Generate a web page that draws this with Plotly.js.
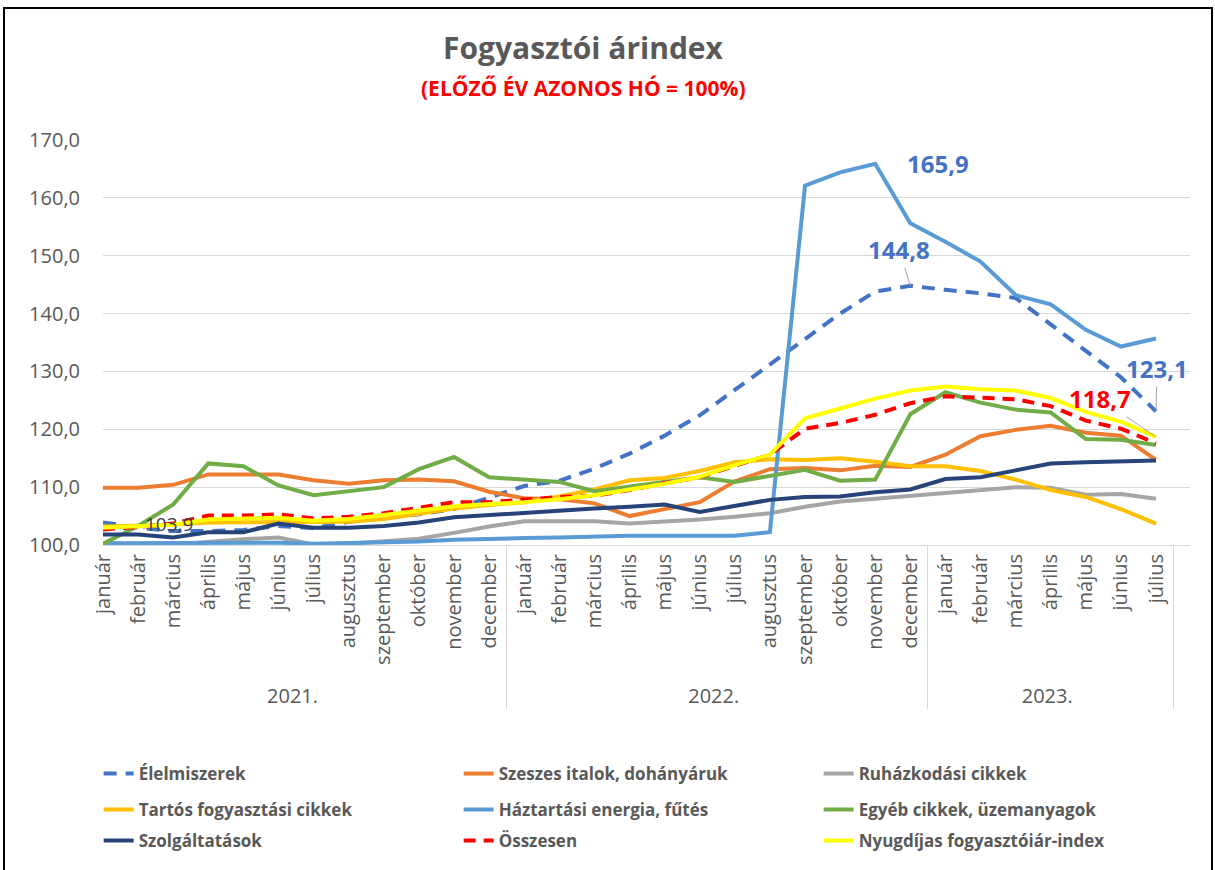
<!DOCTYPE html>
<html>
<head>
<meta charset="utf-8">
<script src="https://cdn.plot.ly/plotly-3.0.1.min.js"></script>
<style>
  html, body { margin: 0; padding: 0; background: #ffffff; }
  #wrap { position: relative; width: 1215px; height: 870px; }
  #chart { width: 1215px; height: 870px; }
  #frame {
    position: absolute; left: 3px; top: 7px; width: 1206px; height: 870px;
    border: 2px solid #000; border-bottom: none; pointer-events: none;
  }
</style>
</head>
<body>
<div id="wrap">
  <div id="chart"></div>
  <div id="frame"></div>
</div>
<script>
  // categories
  const years = ["2021.", "2022.", "2023."];
  const monthNames = ["január", "február", "március", "április", "május", "június",
    "július", "augusztus", "szeptember", "október", "november", "december"];
  const monthsPerYear = [12, 12, 7];

  // series values (previous year same month = 100)
  const elelmiszerek = [103.9, 103.0, 102.4, 102.4, 102.6, 103.3, 102.9, 104.0, 104.7, 105.3, 106.2, 108.2,
    110.2, 111.1, 113.2, 115.8, 118.9, 122.4, 126.8, 131.0, 135.5, 140.0, 143.8, 144.8,
    144.1, 143.5, 142.7, 138.1, 133.6, 129.0, 123.1];
  const szeszes = [109.9, 109.9, 110.4, 112.2, 112.2, 112.2, 111.2, 110.6, 111.2, 111.3, 111.0, 109.2,
    108.1, 107.9, 107.2, 105.0, 106.2, 107.4, 111.0, 113.1, 113.3, 112.9, 113.7, 113.5,
    115.6, 118.8, 119.9, 120.6, 119.4, 118.9, 114.7];
  const ruhazkodas = [100.3, 100.1, 100.1, 100.6, 101.0, 101.3, 100.1, 100.2, 100.6, 101.1, 102.1, 103.2,
    104.1, 104.1, 104.1, 103.7, 104.0, 104.4, 104.9, 105.5, 106.6, 107.5, 108.0, 108.5,
    108.9, 109.4, 110.0, 109.9, 108.7, 108.8, 108.0];
  const tartos = [103.2, 103.3, 103.5, 103.9, 103.9, 104.0, 103.9, 104.0, 104.5, 105.4, 106.3, 106.9,
    107.4, 108.4, 109.6, 111.2, 111.6, 112.8, 114.3, 114.8, 114.7, 115.0, 114.4, 113.6,
    113.6, 112.8, 111.3, 109.5, 108.3, 106.2, 103.7];
  const energia = [100.3, 100.3, 100.3, 100.3, 100.4, 100.4, 100.2, 100.3, 100.4, 100.6, 100.9, 101.1,
    101.2, 101.3, 101.5, 101.6, 101.6, 101.6, 101.6, 102.2, 162.1, 164.4, 165.9, 155.6,
    152.4, 149.0, 143.2, 141.6, 137.2, 134.3, 135.7];
  const egyeb = [100.2, 103.3, 107.0, 114.1, 113.6, 110.3, 108.6, 109.3, 110.0, 113.1, 115.2, 111.7,
    111.3, 110.9, 109.3, 110.1, 110.9, 111.7, 110.9, 111.9, 113.0, 111.1, 111.3, 122.6,
    126.4, 124.6, 123.4, 122.9, 118.3, 118.2, 117.3];
  const szolgaltatas = [101.8, 101.8, 101.3, 102.2, 102.2, 103.7, 103.0, 103.0, 103.3, 103.9, 104.8, 105.2,
    105.5, 105.9, 106.3, 106.6, 107.0, 105.7, 106.8, 107.8, 108.3, 108.4, 109.1, 109.6,
    111.4, 111.7, 112.9, 114.1, 114.3, 114.4, 114.6];
  const osszesen = [102.7, 103.1, 103.7, 105.1, 105.1, 105.3, 104.6, 104.9, 105.5, 106.5, 107.4, 107.4,
    107.9, 108.3, 108.5, 109.5, 110.7, 111.7, 113.7, 115.6, 120.1, 121.1, 122.5, 124.5,
    125.7, 125.4, 125.2, 124.0, 121.5, 120.1, 117.6];
  const nyugdijas = [103.0, 103.2, 103.5, 104.4, 104.5, 104.7, 104.2, 104.5, 105.2, 106.0, 106.7, 107.1,
    107.4, 107.9, 108.6, 109.6, 110.6, 111.8, 113.8, 115.6, 121.9, 123.6, 125.3, 126.7,
    127.4, 126.9, 126.7, 125.4, 123.0, 121.3, 118.7];

  const yTicks = [100, 110, 120, 130, 140, 150, 160, 170];

  // x as two-level categories (year, month)
  const xYear = [];
  const xMonth = [];
  years.forEach((y, i) => {
    for (let m = 0; m < monthsPerYear[i]; m++) {
      xYear.push(y);
      xMonth.push(monthNames[m]);
    }
  });

  // row = which of the three legend rows the entry sits in
  const seriesDefs = [
    { name: "Élelmiszerek", y: elelmiszerek, color: "#4472C4", dash: "13px,9px", row: "legend" },
    { name: "Szeszes italok, dohányáruk", y: szeszes, color: "#ED7D31", row: "legend" },
    { name: "Ruházkodási cikkek", y: ruhazkodas, color: "#A5A5A5", row: "legend" },
    { name: "Tartós fogyasztási cikkek", y: tartos, color: "#FFC000", row: "legend2" },
    { name: "Háztartási energia, fűtés", y: energia, color: "#5B9BD5", row: "legend2" },
    { name: "Egyéb cikkek, üzemanyagok", y: egyeb, color: "#70AD47", row: "legend2" },
    { name: "Szolgáltatások", y: szolgaltatas, color: "#264478", row: "legend3" },
    { name: "Összesen", y: osszesen, color: "#FF0000", dash: "12px,8px", row: "legend3" },
    { name: "Nyugdíjas fogyasztóiár-index", y: nyugdijas, color: "#FFFF00", row: "legend3" }
  ];

  const traces = seriesDefs.map((s) => ({
    type: "scatter",
    mode: "lines",
    name: s.name,
    legend: s.row,
    x: [xYear, xMonth],
    y: s.y,
    line: { color: s.color, width: 4, dash: s.dash || "solid" },
    hoverinfo: "skip"
  }));

  const textGray = "#595959";
  const labelFont = { family: "Open Sans, sans-serif", size: 24, color: "#4472C4" };

  const annotations = [
    {
      xref: "paper", yref: "paper", x: 0.442, y: 1.0, yanchor: "bottom", yshift: 70,
      text: "<b>Fogyasztói árindex</b>", showarrow: false,
      font: { family: "Open Sans, sans-serif", size: 30, color: textGray }
    },
    {
      xref: "paper", yref: "paper", x: 0.442, y: 1.0, yanchor: "bottom", yshift: 36,
      text: "<b>(ELŐZŐ ÉV AZONOS HÓ = 100%)</b>", showarrow: false,
      font: { family: "Open Sans, sans-serif", size: 21, color: "#FF0000" }
    },
    {
      x: 0, y: elelmiszerek[0], xshift: 66, yshift: -2, showarrow: false, text: "103,9",
      font: { family: "Open Sans, sans-serif", size: 19, color: "#404040" }
    },
    {
      x: 22, y: energia[22], xshift: 63, showarrow: false, text: "<b>165,9</b>",
      font: labelFont
    },
    {
      x: 23, y: elelmiszerek[23], ax: -11, ay: -36, text: "<b>144,8</b>",
      showarrow: true, arrowhead: 0, arrowwidth: 1, arrowcolor: "#A5A5A5", standoff: 0,
      font: labelFont
    },
    {
      x: 30, y: elelmiszerek[30], ax: 1, ay: -43, text: "<b>123,1</b>",
      showarrow: true, arrowhead: 0, arrowwidth: 1, arrowcolor: "#A5A5A5", standoff: 0,
      font: labelFont
    },
    {
      x: 30, y: nyugdijas[30], ax: -56, ay: -38, text: "<b>118,7</b>",
      showarrow: true, arrowhead: 0, arrowwidth: 1, arrowcolor: "#A5A5A5", standoff: 0,
      font: { family: "Open Sans, sans-serif", size: 24, color: "#FF0000" }
    }
  ];

  function legendRow(y) {
    return {
      orientation: "h",
      x: -0.004,
      xanchor: "left",
      y: y,
      yanchor: "middle",
      entrywidth: 315,
      entrywidthmode: "pixels",
      traceorder: "normal",
      bgcolor: "rgba(0,0,0,0)",
      font: { family: "Open Sans, sans-serif", size: 17, color: textGray, weight: 700 }
    };
  }

  const layout = {
    width: 1215,
    height: 870,
    paper_bgcolor: "#ffffff",
    plot_bgcolor: "#ffffff",
    separators: ", ",
    font: { family: "Open Sans, sans-serif", color: textGray },
    margin: { l: 103, r: 25, t: 140, b: 324 },
    showlegend: true,
    legend: legendRow(-0.5616),
    legend2: legendRow(-0.6502),
    legend3: legendRow(-0.7266),
    xaxis: {
      type: "multicategory",
      tickangle: -90,
      tickfont: { family: "Open Sans, sans-serif", size: 20, color: textGray },
      showgrid: false,
      showline: true,
      linecolor: "#D9D9D9",
      linewidth: 1,
      ticks: "",
      showdividers: true,
      dividercolor: "#D9D9D9",
      dividerwidth: 1,
      zeroline: false
    },
    yaxis: {
      range: [100, 170],
      tickvals: yTicks,
      tickformat: ".1f",
      tickfont: { family: "Open Sans, sans-serif", size: 20, color: textGray },
      showgrid: true,
      gridcolor: "#D9D9D9",
      gridwidth: 1,
      zeroline: false,
      showline: false,
      ticks: "",
      ticklabelstandoff: 22
    },
    annotations
  };

  Plotly.newPlot("chart", traces, layout, { displayModeBar: false, staticPlot: true });
</script>
</body>
</html>
